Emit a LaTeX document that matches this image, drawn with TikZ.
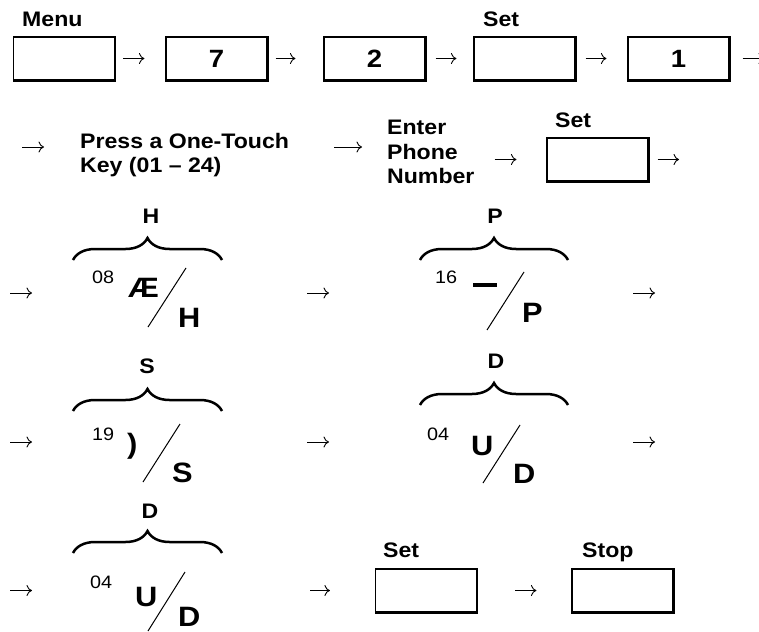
\documentclass[tikz,border=0pt]{standalone}
\usepackage{fontspec}
\setmainfont{Liberation Sans}[FakeStretch=1.1]
\usetikzlibrary{arrows.meta, decorations.pathreplacing}

\begin{document}
\begin{tikzpicture}[x=1pt, y=-1pt,
  keybox/.style={rectangle, draw=black, line width=1.2pt, fill=white,
                 minimum width=101pt, minimum height=43pt, inner sep=0pt,
                 font=\fontsize{25}{25}\selectfont\bfseries},
  lbl/.style={inner sep=0pt, font=\fontsize{21}{21}\selectfont\bfseries},
  note/.style={inner sep=0pt, align=left,
               font=\fontsize{21}{24.5}\selectfont\bfseries},
  num/.style={inner sep=0pt, font=\fontsize{18}{18}\selectfont},
  big/.style={inner sep=0pt, font=\fontsize{28}{28}\selectfont\bfseries},
  brc/.style={decorate, decoration={brace, amplitude=22pt}, line width=2.5pt},
  slash/.style={line width=1pt},
  flow/.style={-{Computer Modern Rightarrow[length=5.5pt, width=11pt]},
               line width=0.9pt}
]
\useasboundingbox (0,0) rectangle (759,631);

% row 1: Menu 7 2 Set 1
\node[keybox] (k1) at (64,58.5) {};
\node[keybox] (k2) at (216.5,58.5) {7};
\node[keybox] (k3) at (374.5,58.5) {2};
\node[keybox] (k4) at (524.5,58.5) {};
\node[keybox] (k5) at (678.5,58.5) {1};
\node[lbl, anchor=base west] (menu) at (22,27) {Menu};
\node[lbl, anchor=base west] (set1) at (483,27) {Set};
\coordinate (e1) at (764,58.5);

% row 2
\coordinate (w2) at (22,147);
\node[note, anchor=north west] (press) at (80,133)
  {Press a One-Touch\\Key (01 – 24)};
\node[note, anchor=north west] (enter) at (387,120)
  {Enter\\Phone\\Number};
\node[keybox] (k6) at (597.5,159.5) {};
\node[lbl, anchor=base west] (set2) at (555,128) {Set};
\coordinate (e2) at (679,159.5);

% row 3: H and P
\node[lbl, anchor=base] (hlab) at (151,223) {H};
\draw[brc] (73,260) -- (222,260);
\node[num, anchor=base west] (h08) at (92,283) {08};
\node[big, anchor=base west] (hae) at (128,297) {Æ};
\draw[slash] (148,327) -- (186,268);
\node[big, anchor=base west] (hkey) at (178,327) {H};
\coordinate (gh) at (147,293);

\node[lbl, anchor=base] (plab) at (495,223) {P};
\draw[brc] (420,260) -- (568,260);
\node[num, anchor=base west] (p16) at (435,283) {16};
\node[big, anchor=base west] (pdash) at (473,287) {\rule{24pt}{4pt}};
\draw[slash] (487,330) -- (524,272);
\node[big, anchor=base west] (pkey) at (522,322) {P};
\coordinate (gp) at (494,293);
\coordinate (w3) at (10,293);
\coordinate (e3) at (655,293);

% row 4: S and D
\node[lbl, anchor=base] (slab) at (147,373) {S};
\draw[brc] (73,411) -- (222,411);
\node[num, anchor=base west] (s19) at (92,440) {19};
\node[big, anchor=base west] (spar) at (127,453) {)};
\draw[slash] (143,482) -- (180,424);
\node[big, anchor=base west] (skey) at (172,482) {S};
\coordinate (gs) at (147,442);

\node[lbl, anchor=base] (dlab) at (496,368) {D};
\draw[brc] (420,405) -- (568,405);
\node[num, anchor=base west] (d04) at (427,440) {04};
\node[big, anchor=base west] (du) at (471,455) {U};
\draw[slash] (483,483) -- (520,425);
\node[big, anchor=base west] (dkey) at (513,483) {D};
\coordinate (gd) at (494,442);
\coordinate (w4) at (10,442);
\coordinate (e4) at (655,442);

% row 5: D, Set, Stop
\node[lbl, anchor=base] (elab) at (150,518) {D};
\draw[brc] (73,553) -- (222,553);
\node[num, anchor=base west] (e04) at (90,588) {04};
\node[big, anchor=base west] (eu) at (135,606) {U};
\draw[slash] (148,631) -- (185,572);
\node[big, anchor=base west] (ekey) at (178,626) {D};
\coordinate (ge) at (147,590.5);
\coordinate (w5) at (10,590.5);
\node[keybox] (k7) at (426,590.5) {};
\node[keybox] (k8) at (622.5,590.5) {};
\node[lbl, anchor=base west] (set3) at (383,557) {Set};
\node[lbl, anchor=base west] (stop) at (582,557) {Stop};

% heavy right and bottom edges of the keys
\foreach \k in {k1,k2,k3,k4,k5,k6,k7,k8}
  \draw[line width=2.6pt] (\k.north east) -- (\k.south east) -- (\k.south west);

\draw[flow, shorten <=8pt, shorten >=21pt] (k1) -- (k2);
\draw[flow, shorten <=8pt, shorten >=28pt] (k2) -- (k3);
\draw[flow, shorten <=10pt, shorten >=17pt] (k3) -- (k4);
\draw[flow, shorten <=10pt, shorten >=21pt] (k4) -- (k5);
\draw[flow, shorten <=13pt] (k5) -- (e1);

\draw[flow, shorten >=36pt] (w2) -- (w2 -| press.west);
\draw[flow, shorten <=45pt, shorten >=25pt] (press.east |- w2) -- (w2 -| enter.west);
\draw[flow, shorten <=20pt, shorten >=30pt] (enter.east |- k6) -- (k6);
\draw[flow, shorten <=9pt] (k6) -- (e2);

\draw[flow, shorten >=115pt] (w3) -- (gh);
\draw[flow, shorten <=160pt, shorten >=165pt] (gh) -- (gp);
\draw[flow, shorten <=139pt] (gp) -- (e3);

\draw[flow, shorten >=115pt] (w4) -- (gs);
\draw[flow, shorten <=160pt, shorten >=165pt] (gs) -- (gd);
\draw[flow, shorten <=139pt] (gd) -- (e4);

\draw[flow, shorten >=115pt] (w5) -- (ge);
\draw[flow, shorten <=163pt, shorten >=45pt] (ge) -- (k7);
\draw[flow, shorten <=38pt, shorten >=35pt] (k7) -- (k8);

\end{tikzpicture}
\end{document}
